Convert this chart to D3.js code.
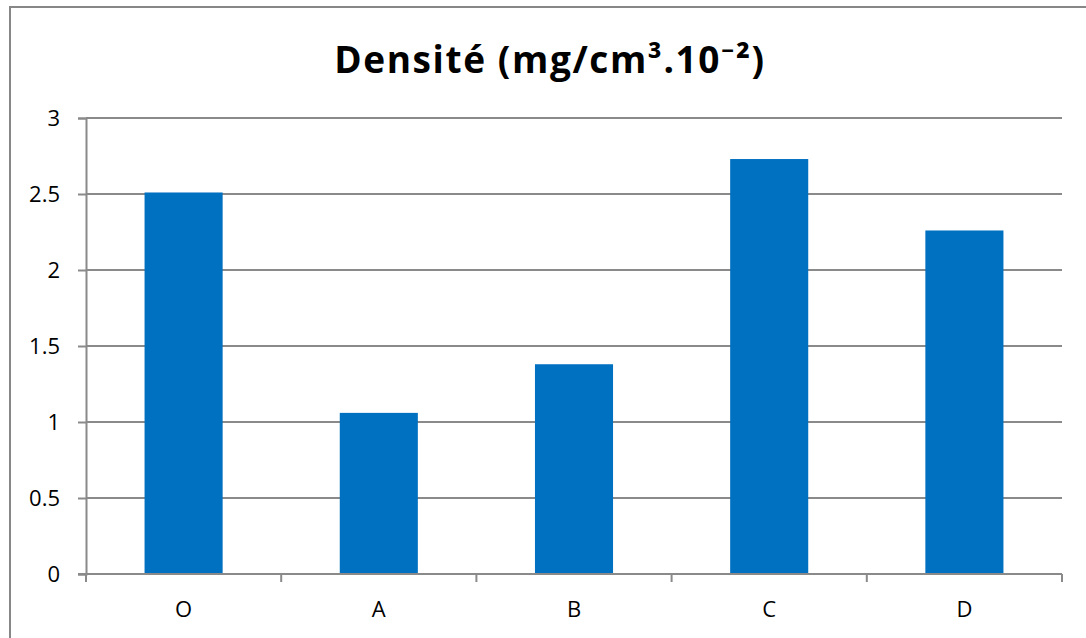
<!DOCTYPE html>
<html>
<head>
<meta charset="utf-8">
<script src="https://cdn.jsdelivr.net/npm/d3@7"></script>
<style>
  html, body { margin: 0; padding: 0; background: #fff; }
  svg { display: block; }
</style>
</head>
<body>
<svg id="chart" width="1086" height="638"></svg>
<script>
const title = "Densité (mg/cm³.10⁻²)";
const categories = ["O", "A", "B", "C", "D"];
const values = [2.51, 1.06, 1.38, 2.73, 2.26];
const yTicks = [0, 0.5, 1, 1.5, 2, 2.5, 3];
const yTickLabels = ["0", "0.5", "1", "1.5", "2", "2.5", "3"];

const W = 1086, H = 638;
const margin = { left: 86, right: 24, top: 118, bottom: 64 };
const svg = d3.select("#chart");
const font = "'Open Sans', 'Noto Sans', sans-serif";

svg.append("rect")
  .attr("x", 10).attr("y", 7)
  .attr("width", W + 10).attr("height", H + 10)
  .attr("fill", "#fff").attr("stroke", "#878787").attr("stroke-width", 2);

const x = d3.scaleBand().domain(categories)
  .range([margin.left, W - margin.right])
  .paddingInner(0.6).paddingOuter(0.3);
const xOuter = d3.scaleBand().domain(categories)
  .range([margin.left, W - margin.right]);
const y = d3.scaleLinear().domain([0, 3])
  .range([H - margin.bottom, margin.top]);

// gridlines
svg.append("g").selectAll("line").data(yTicks.filter(d => d > 0)).join("line")
  .attr("x1", margin.left).attr("x2", W - margin.right)
  .attr("y1", d => y(d)).attr("y2", d => y(d))
  .attr("stroke", "#8a8a8a").attr("stroke-width", 2);

// bars
svg.append("g").selectAll("rect").data(values).join("rect")
  .attr("x", (d, i) => x(categories[i]))
  .attr("width", x.bandwidth())
  .attr("y", d => y(d))
  .attr("height", d => y(0) - y(d))
  .attr("fill", "#0070C0");

// y axis
const yAxis = d3.axisLeft(y).tickValues(yTicks)
  .tickFormat((d, i) => yTickLabels[i]).tickSize(8).tickPadding(18);
const gy = svg.append("g").attr("transform", `translate(${margin.left},0)`).call(yAxis);
gy.select(".domain").attr("stroke", "#8a8a8a").attr("stroke-width", 2);
gy.selectAll(".tick line").attr("stroke", "#8a8a8a").attr("stroke-width", 2);
gy.selectAll(".tick text").attr("font-family", font).attr("font-size", 22).attr("fill", "#000");

// x axis
const boundaries = categories.map(c => xOuter(c)).concat([W - margin.right]);
svg.append("line")
  .attr("x1", margin.left - 8).attr("x2", W - margin.right)
  .attr("y1", y(0)).attr("y2", y(0))
  .attr("stroke", "#8a8a8a").attr("stroke-width", 2);
svg.append("g").selectAll("line").data(boundaries).join("line")
  .attr("x1", d => d).attr("x2", d => d)
  .attr("y1", y(0)).attr("y2", y(0) + 8)
  .attr("stroke", "#8a8a8a").attr("stroke-width", 2);
svg.append("g").selectAll("text").data(categories).join("text")
  .attr("x", d => xOuter(d) + xOuter.bandwidth() / 2)
  .attr("y", 617)
  .attr("text-anchor", "middle")
  .attr("font-family", font).attr("font-size", 22).attr("fill", "#000")
  .text(d => d);

// title
svg.append("text")
  .attr("x", 550).attr("y", 73)
  .attr("text-anchor", "middle")
  .attr("font-family", font).attr("font-weight", "bold")
  .attr("font-size", 37).attr("letter-spacing", 1.6).attr("fill", "#000")
  .text(title);
</script>
</body>
</html>
